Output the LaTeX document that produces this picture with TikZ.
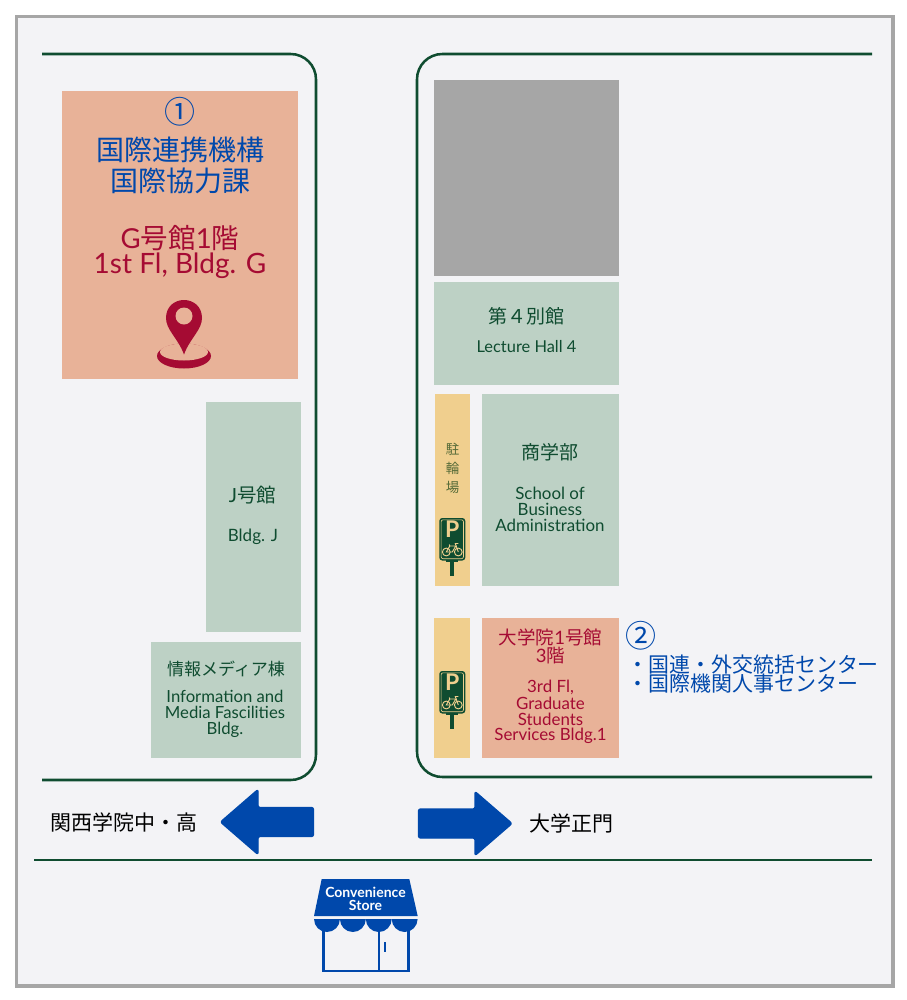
\documentclass[tikz,border=0pt]{standalone}
\usepackage{fontspec}
\setmainfont{Lato}
\newfontfamily\cjk{Noto Sans CJK JP}
\newcommand{\fpx}[1]{\pgfmathsetmacro\fszpt{#1*0.75}\fontsize{\fszpt pt}{\fszpt pt}\selectfont}
\definecolor{roadgreen}{HTML}{0F4C30}
\definecolor{bgpaper}{HTML}{F3F3F6}
\definecolor{frameg}{HTML}{A6A6A6}
\definecolor{salmon}{HTML}{E8B298}
\definecolor{sage}{HTML}{BDD1C5}
\definecolor{sand}{HTML}{F0CF8E}
\definecolor{crimson}{HTML}{A50B33}
\definecolor{royal}{HTML}{0048AB}
\definecolor{olivetext}{HTML}{566B38}
\tikzset{
  x=0.75pt,y=-0.75pt,
  road/.style={draw=roadgreen,line width=1.9pt,rounded corners=19pt},
  lbl/.style={inner sep=0pt,outer sep=0pt,align=center},
  gtext/.style={lbl,text=roadgreen},
  rtext/.style={lbl,text=crimson},
  btext/.style={lbl,text=royal},
  bigarrow/.style={fill=royal,draw=royal,line width=1pt,line join=round,rounded corners=1.5pt},
  pics/parksign/.style={code={
    \fill[roadgreen] (-2,42) rectangle (2,58);
    \fill[roadgreen] (-6,42) rectangle (6,44);
    \fill[roadgreen,rounded corners=2.2pt] (-13,0) rectangle (13,42.5);
    \draw[sand,line width=.45pt,rounded corners=1.5pt] (-11.2,1.8) rectangle (11.2,40.7);
    \node[lbl,text=sand] at (0,11.5) {\fpx{23}\bfseries P};
    \begin{scope}[sand,line width=.7pt]
      \draw (-6,34) circle (3.9);
      \draw (6,34) circle (3.9);
      \draw (-6,34) -- (-2.5,28) -- (3.5,28) -- (0,34) -- cycle;
      \draw (6,34) -- (3,25.5) -- (6,25.5);
      \draw (-3,26.5) -- (-2.5,28);
    \end{scope}
  }},
}
\begin{document}
\begin{tikzpicture}
\useasboundingbox (0,0) rectangle (907,1000);
\fill[white] (0,0) rectangle (907,1000);
\draw[draw=frameg,fill=bgpaper,line width=2.4pt] (16.5,16.5) rectangle (893,986);

% roads
\draw[road] (42,54) -- (316,54) -- (316,780) -- (42,780);
\draw[road] (872,54) -- (417,54) -- (417,777) -- (872,777);
\draw[draw=roadgreen,line width=2.2pt] (34,860) -- (872,860);

% blocks
\fill[salmon] (62,91) rectangle (298,379);
\fill[frameg] (434,80) rectangle (618.5,276);
\fill[sage] (434,282) rectangle (618.5,385);
\fill[sand] (435,394) rectangle (470,585.5);
\fill[sage] (482,394) rectangle (618.5,585.5);
\fill[sand] (434,618) rectangle (470,758);
\fill[salmon] (482,618) rectangle (618.5,758);
\fill[sage] (206,402) rectangle (301,632);
\fill[sage] (151,642) rectangle (301,758);

% office G
\node[btext] (numone) at (180,111.5) {\cjk\fpx{31}①};
\node[btext] (officeG1) at (180,149.5) {\cjk\fpx{28}国際連携機構};
\node[btext] (officeG2) at (180,180.5) {\cjk\fpx{28}国際協力課};
\node[rtext] (floorG1) at (180,238) {\fpx{27.5}G{\cjk 号館}1{\cjk 階}};
\node[rtext] (floorG2) at (180,266) {\fpx{28}1st Fl, Bldg. G};

% pin
\fill[crimson] (184,356) ellipse (27 and 12.5);
\fill[salmon] (184,352) ellipse (24 and 8.5);
\fill[crimson] (184,354.5)
  .. controls (178,338) and (166,330) .. (166,318)
  .. controls (166,307) and (174,300) .. (184,300)
  .. controls (194,300) and (202,307) .. (202,318)
  .. controls (202,330) and (190,338) .. (184,354.5) -- cycle;
\fill[salmon] (184,316) circle (8.5);

% lecture hall
\node[gtext] (hall4j) at (526.5,316.5) {\cjk\fpx{19}第４別館};
\node[gtext] (hall4e) at (526.5,347) {\fpx{16.4}Lecture Hall 4};

% bike parking
\node[lbl,text=olivetext] (bike1) at (452.5,449) {\cjk\fpx{13.5}駐};
\node[lbl,text=olivetext] (bike2) at (452.5,468) {\cjk\fpx{13.5}輪};
\node[lbl,text=olivetext] (bike3) at (452.5,487) {\cjk\fpx{13.5}場};
\pic at (452.3,518) {parksign};
\pic at (452.3,671) {parksign};

% business
\node[gtext] (busj) at (550,452) {\cjk\fpx{19}商学部};
\node[gtext] (buse1) at (550,493) {\fpx{16.9}School of};
\node[gtext] (buse2) at (550,509) {\fpx{16.9}Business};
\node[gtext] (buse3) at (550,525) {\fpx{16.9}Administration};

% graduate
\node[rtext] (gradj1) at (550.5,637) {\fpx{18.5}{\cjk 大学院}1{\cjk 号館}};
\node[rtext] (gradj2) at (550.5,656) {\fpx{18.5}3{\cjk 階}};
\node[rtext] (grade1) at (550.5,687.5) {\fpx{16.9}3rd Fl,};
\node[rtext] (grade2) at (550.5,703.5) {\fpx{16.9}Graduate};
\node[rtext] (grade3) at (550.5,719.5) {\fpx{16.9}Students};
\node[rtext] (grade4) at (550.5,735.5) {\fpx{16.9}Services Bldg.1};

\node[btext] (numtwo) at (641,636) {\cjk\fpx{31}②};
\node[btext,anchor=west] (centers1) at (627.5,664.5) {\cjk\fpx{20.95}・国連・外交統括センター};
\node[btext,anchor=west] (centers2) at (627.5,683.5) {\cjk\fpx{20.95}・国際機関人事センター};

% J and info
\node[gtext] (jj) at (252.5,495) {\fpx{19.5}J{\cjk 号館}};
\node[gtext] (je) at (253,536.5) {\fpx{17}Bldg. J};
\node[gtext] (infoj) at (226,668.5) {\cjk\fpx{17}情報メディア棟};
\node[gtext] (infoe1) at (225,696.5) {\fpx{16.7}Information and};
\node[gtext] (infoe2) at (225,712.5) {\fpx{16.7}Media Fascilities};
\node[gtext] (infoe3) at (225,729.5) {\fpx{16.7}Bldg.};

% arrows
\draw[bigarrow] (220.5,822) -- (258,789.5) -- (258,807.5) -- (313.5,807.5) -- (313.5,836.5) -- (258,836.5) -- (258,854.5) -- cycle;
\draw[bigarrow] (512,823.5) -- (475,791.5) -- (475,809) -- (418.5,809) -- (418.5,838) -- (475,838) -- (475,855.5) -- cycle;
\node[lbl,text=black] (westlbl) at (124,822.5) {\cjk\fpx{21}関西学院中・高};
\node[lbl,text=black] (eastlbl) at (571.5,823.5) {\cjk\fpx{21}大学正門};

% store
\fill[royal] (321.7,879) -- (409.3,879) -- (417.7,916) -- (314,916) -- cycle;
\foreach \i in {0,1,2,3}{
  \fill[royal] ({314+25.9*\i},919) arc[start angle=180,end angle=0,x radius=12.95,y radius=13] -- cycle;
}
\draw[royal,line width=2.1pt] (323.5,929) -- (323.5,971) -- (408.5,971) -- (408.5,929);
\draw[royal,line width=2.1pt] (379,929) -- (379,971);
\draw[royal,line width=1.6pt] (385,942) -- (385,952);
\node[lbl,text=white] (store1) at (365.5,892.5) {\fpx{14}\bfseries Convenience};
\node[lbl,text=white] (store2) at (365.5,905.5) {\fpx{14}\bfseries Store};
\end{tikzpicture}
\end{document}
